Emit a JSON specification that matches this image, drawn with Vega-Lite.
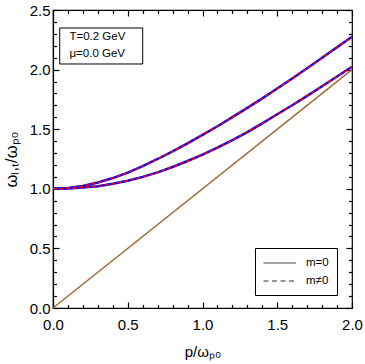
{
  "$schema": "https://vega.github.io/schema/vega-lite/v6.json",
  "width": 299,
  "height": 298,
  "autosize": {"type": "none"},
  "padding": {"left": 53, "top": 10, "right": 13, "bottom": 56},
  "background": "white",
  "config": {
    "view": {"stroke": "black", "strokeWidth": 1.2},
    "font": "Liberation Sans",
    "axis": {
      "grid": false,
      "domainColor": "black",
      "domainWidth": 1.2,
      "tickColor": "black",
      "tickWidth": 1.2,
      "labelFont": "Liberation Sans",
      "labelFontSize": 15,
      "labelColor": "black",
      "titleFont": "Liberation Sans",
      "titleFontSize": 15,
      "titleFontWeight": "normal",
      "titleColor": "black"
    }
  },
  "datasets": {
    "curves": [
      {"p": 0.0, "w": 1.000, "branch": "T"},
      {"p": 0.1, "w": 1.006, "branch": "T"},
      {"p": 0.2, "w": 1.024, "branch": "T"},
      {"p": 0.3, "w": 1.053, "branch": "T"},
      {"p": 0.4, "w": 1.090, "branch": "T"},
      {"p": 0.5, "w": 1.136, "branch": "T"},
      {"p": 0.6, "w": 1.190, "branch": "T"},
      {"p": 0.7, "w": 1.250, "branch": "T"},
      {"p": 0.8, "w": 1.314, "branch": "T"},
      {"p": 0.9, "w": 1.381, "branch": "T"},
      {"p": 1.0, "w": 1.452, "branch": "T"},
      {"p": 1.1, "w": 1.525, "branch": "T"},
      {"p": 1.2, "w": 1.601, "branch": "T"},
      {"p": 1.3, "w": 1.679, "branch": "T"},
      {"p": 1.4, "w": 1.759, "branch": "T"},
      {"p": 1.5, "w": 1.841, "branch": "T"},
      {"p": 1.6, "w": 1.926, "branch": "T"},
      {"p": 1.7, "w": 2.011, "branch": "T"},
      {"p": 1.8, "w": 2.099, "branch": "T"},
      {"p": 1.9, "w": 2.187, "branch": "T"},
      {"p": 2.0, "w": 2.276, "branch": "T"},
      {"p": 0.0, "w": 1.000, "branch": "L"},
      {"p": 0.1, "w": 1.002, "branch": "L"},
      {"p": 0.2, "w": 1.010, "branch": "L"},
      {"p": 0.3, "w": 1.022, "branch": "L"},
      {"p": 0.4, "w": 1.042, "branch": "L"},
      {"p": 0.5, "w": 1.068, "branch": "L"},
      {"p": 0.6, "w": 1.100, "branch": "L"},
      {"p": 0.7, "w": 1.138, "branch": "L"},
      {"p": 0.8, "w": 1.183, "branch": "L"},
      {"p": 0.9, "w": 1.233, "branch": "L"},
      {"p": 1.0, "w": 1.286, "branch": "L"},
      {"p": 1.1, "w": 1.345, "branch": "L"},
      {"p": 1.2, "w": 1.409, "branch": "L"},
      {"p": 1.3, "w": 1.476, "branch": "L"},
      {"p": 1.4, "w": 1.549, "branch": "L"},
      {"p": 1.5, "w": 1.625, "branch": "L"},
      {"p": 1.6, "w": 1.701, "branch": "L"},
      {"p": 1.7, "w": 1.780, "branch": "L"},
      {"p": 1.8, "w": 1.860, "branch": "L"},
      {"p": 1.9, "w": 1.942, "branch": "L"},
      {"p": 2.0, "w": 2.024, "branch": "L"}
    ],
    "light": [
      {"p": 0.0, "w": 0.0},
      {"p": 2.0, "w": 2.0}
    ],
    "masses": [
      {"m": "m=0"},
      {"m": "m≠0"}
    ]
  },
  "layer": [
    {
      "data": {"name": "light"},
      "mark": {"type": "line", "color": "#A06A32", "strokeWidth": 1.5},
      "encoding": {
        "x": {
          "field": "p", "type": "quantitative",
          "scale": {"domain": [0, 2], "nice": false, "zero": false},
          "axis": {
            "orient": "bottom",
            "title": "p/ωₚ₀",
            "values": [0, 0.5, 1, 1.5, 2],
            "format": ".1f",
            "ticks": false,
            "labelPadding": 9,
            "labelFlush": false,
            "labelOverlap": false,
            "titlePadding": 12
          }
        },
        "y": {
          "field": "w", "type": "quantitative",
          "scale": {"domain": [0, 2.5], "nice": false, "zero": false},
          "axis": {
            "orient": "left",
            "title": "ωₗ,ₜ/ωₚ₀",
            "titleFontSize": 16.5,
            "values": [0, 0.5, 1, 1.5, 2, 2.5],
            "format": ".1f",
            "ticks": false,
            "labelPadding": 3,
            "labelFlush": false,
            "labelOverlap": false,
            "titlePadding": 10
          }
        }
      }
    },
    {
      "data": {"name": "curves"},
      "mark": {"type": "line", "color": "#0000FF", "strokeWidth": 2.5},
      "encoding": {
        "x": {
          "field": "p", "type": "quantitative",
          "axis": {"orient": "top", "title": null, "labels": false, "domain": false, "ticks": true, "values": [0, 0.5, 1, 1.5, 2], "tickSize": -6}
        },
        "y": {
          "field": "w", "type": "quantitative",
          "axis": {"orient": "right", "title": null, "labels": false, "domain": false, "ticks": true, "values": [0, 0.5, 1, 1.5, 2, 2.5], "tickSize": -6}
        },
        "detail": {"field": "branch"}
      }
    },
    {
      "data": {"name": "curves"},
      "mark": {"type": "line", "color": "#FF0000", "strokeWidth": 1.5, "strokeDash": [4, 2.5]},
      "encoding": {
        "x": {
          "field": "p", "type": "quantitative",
          "axis": {"orient": "bottom", "title": null, "labels": false, "domain": false, "ticks": true, "values": [0, 0.5, 1, 1.5, 2], "tickSize": -6}
        },
        "y": {
          "field": "w", "type": "quantitative",
          "axis": {"orient": "left", "title": null, "labels": false, "domain": false, "ticks": true, "values": [0, 0.5, 1, 1.5, 2, 2.5], "tickSize": -6}
        },
        "detail": {"field": "branch"}
      }
    },
    {
      "data": {"name": "light"},
      "mark": {"type": "line", "strokeOpacity": 0},
      "encoding": {
        "x": {
          "field": "p", "type": "quantitative",
          "axis": {"orient": "bottom", "title": null, "labels": false, "domain": false, "ticks": true, "values": [0.1, 0.2, 0.3, 0.4, 0.6, 0.7, 0.8, 0.9, 1.1, 1.2, 1.3, 1.4, 1.6, 1.7, 1.8, 1.9], "tickSize": -3.5}
        },
        "y": {
          "field": "w", "type": "quantitative",
          "axis": {"orient": "left", "title": null, "labels": false, "domain": false, "ticks": true, "values": [0.1, 0.2, 0.3, 0.4, 0.6, 0.7, 0.8, 0.9, 1.1, 1.2, 1.3, 1.4, 1.6, 1.7, 1.8, 1.9, 2.1, 2.2, 2.3, 2.4], "tickSize": -3.5}
        }
      }
    },
    {
      "data": {"name": "light"},
      "mark": {"type": "line", "strokeOpacity": 0},
      "encoding": {
        "x": {
          "field": "p", "type": "quantitative",
          "axis": {"orient": "top", "title": null, "labels": false, "domain": false, "ticks": true, "values": [0.1, 0.2, 0.3, 0.4, 0.6, 0.7, 0.8, 0.9, 1.1, 1.2, 1.3, 1.4, 1.6, 1.7, 1.8, 1.9], "tickSize": -3.5}
        },
        "y": {
          "field": "w", "type": "quantitative",
          "axis": {"orient": "right", "title": null, "labels": false, "domain": false, "ticks": true, "values": [0.1, 0.2, 0.3, 0.4, 0.6, 0.7, 0.8, 0.9, 1.1, 1.2, 1.3, 1.4, 1.6, 1.7, 1.8, 1.9, 2.1, 2.2, 2.3, 2.4], "tickSize": -3.5}
        }
      }
    },
    {
      "data": {"name": "masses"},
      "transform": [{"filter": "false"}],
      "mark": {"type": "line", "color": "#333333", "strokeWidth": 1},
      "encoding": {
        "x": {"datum": 1, "type": "quantitative", "axis": null},
        "y": {"datum": 1, "type": "quantitative", "axis": null},
        "strokeDash": {
          "field": "m", "type": "nominal",
          "scale": {"domain": ["m=0", "m≠0"], "range": [[1, 0], [5, 3.5]]},
          "legend": {
            "title": null,
            "orient": "none",
            "legendX": 202,
            "legendY": 238,
            "direction": "vertical",
            "symbolType": "M-1,0H4",
            "symbolSize": 169,
            "symbolStrokeWidth": 1,
            "symbolStrokeColor": "#333333",
            "labelFont": "Liberation Sans",
            "labelFontSize": 11.5,
            "labelColor": "black",
            "labelOffset": 29,
            "strokeColor": "black",
            "fillColor": "white",
            "padding": 8,
            "rowPadding": 5
          }
        }
      }
    },
    {
      "data": {"values": [{}]},
      "mark": {"type": "rect", "fill": "white", "stroke": "black", "strokeWidth": 1},
      "encoding": {
        "x": {"datum": 0.045, "type": "quantitative", "axis": null},
        "x2": {"datum": 0.60},
        "y": {"datum": 2.349, "type": "quantitative", "axis": null},
        "y2": {"datum": 2.047}
      }
    },
    {
      "data": {"values": [{}]},
      "mark": {"type": "text", "text": "T=0.2 GeV", "align": "left", "baseline": "middle", "font": "Liberation Sans", "fontSize": 11.5, "color": "black"},
      "encoding": {
        "x": {"datum": 0.11, "type": "quantitative", "axis": null},
        "y": {"datum": 2.275, "type": "quantitative", "axis": null}
      }
    },
    {
      "data": {"values": [{}]},
      "mark": {"type": "text", "text": "μ=0.0 GeV", "align": "left", "baseline": "middle", "font": "Liberation Sans", "fontSize": 11.5, "color": "black"},
      "encoding": {
        "x": {"datum": 0.11, "type": "quantitative", "axis": null},
        "y": {"datum": 2.128, "type": "quantitative", "axis": null}
      }
    }
  ],
  "resolve": {"axis": {"x": "independent", "y": "independent"}}
}
